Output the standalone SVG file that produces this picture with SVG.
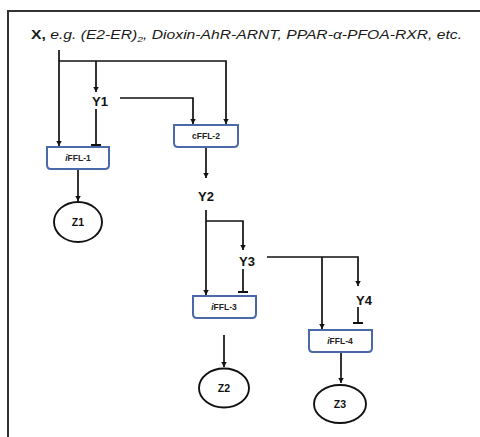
<svg xmlns="http://www.w3.org/2000/svg" width="480" height="437" viewBox="0 0 480 437">
<style>
.ln{fill:none;stroke:#111;stroke-width:1.7}
.bar{fill:none;stroke:#111;stroke-width:2}
.box{fill:#fff;stroke:#4a69a8;stroke-width:2}
.ell{fill:#fff;stroke:#111;stroke-width:1.9}
.y{font-family:"Liberation Sans",Arial,sans-serif;font-weight:bold;font-size:13px;fill:#111;text-anchor:middle}
.z{font-family:"Liberation Sans",Arial,sans-serif;font-weight:bold;font-size:10.5px;fill:#111;text-anchor:middle}
.b{font-family:"Liberation Sans",Arial,sans-serif;font-weight:bold;font-size:8.5px;fill:#222;text-anchor:middle}
.t{font-family:"Liberation Sans",Arial,sans-serif;font-size:12px;fill:#1a1a1a}
</style>
<defs>
<marker id="ah" markerWidth="7" markerHeight="7" refX="5.5" refY="3.5" orient="auto" markerUnits="userSpaceOnUse">
<path d="M0,0.5 L5.5,3.5 L0,6.5 Z" fill="#111"/>
</marker>
</defs>
<rect width="480" height="437" fill="#fff"/>
<path d="M8,437 V11 H480" fill="none" stroke="#333" stroke-width="2"/>
<text class="t" x="31" y="39" textLength="431" lengthAdjust="spacingAndGlyphs"><tspan font-weight="bold" font-style="normal">X,</tspan><tspan font-style="italic"> e.g. (E2-ER)</tspan><tspan font-style="italic" font-size="8" dy="3">2</tspan><tspan font-style="italic" dy="-3">, Dioxin-AhR-ARNT, PPAR-α-PFOA-RXR, etc.</tspan></text>
<g id="connectors">
<path class="ln" d="M59,50 V146" marker-end="url(#ah)"/>
<path class="ln" d="M59,61 H226 V124" marker-end="url(#ah)"/>
<path class="ln" d="M96,61 V92" marker-end="url(#ah)"/>
<path class="ln" d="M96,109 V145"/>
<path class="bar" d="M91,145 H101"/>
<path class="ln" d="M120,98 H193 V124" marker-end="url(#ah)"/>
<path class="ln" d="M78,170 V201" marker-end="url(#ah)"/>
<path class="ln" d="M206,148 V178" marker-end="url(#ah)"/>
<path class="ln" d="M206,210 V295" marker-end="url(#ah)"/>
<path class="ln" d="M206,221 H243 V250" marker-end="url(#ah)"/>
<path class="ln" d="M243,269 V292"/>
<path class="bar" d="M238,292 H248"/>
<path class="ln" d="M267,257 H358 V286" marker-end="url(#ah)"/>
<path class="ln" d="M322,257 V329" marker-end="url(#ah)"/>
<path class="ln" d="M358,307 V323"/>
<path class="bar" d="M353,323 H363"/>
<path class="ln" d="M224,335 V367" marker-end="url(#ah)"/>
<path class="ln" d="M341,353 V383" marker-end="url(#ah)"/>
</g>
<g id="Y1"><text class="y" x="100" y="106">Y1</text></g>
<g id="Y2"><text class="y" x="206" y="201">Y2</text></g>
<g id="Y3"><text class="y" x="247" y="266">Y3</text></g>
<g id="Y4"><text class="y" x="364" y="305">Y4</text></g>
<g id="iFFL-1">
<path class="box" d="M47,147 H109 V165 Q109,169 105,169 H51 Q47,169 47,165 Z"/>
<text class="b" x="78" y="161"><tspan font-style="italic">i</tspan>FFL-1</text>
</g>
<g id="cFFL-2">
<path class="box" d="M174,125 H238 V143 Q238,147 234,147 H178 Q174,147 174,143 Z"/>
<text class="b" x="206" y="139">cFFL-2</text>
</g>
<g id="iFFL-3">
<path class="box" d="M193,296 H256 V314 Q256,318 252,318 H197 Q193,318 193,314 Z"/>
<text class="b" x="224" y="310"><tspan font-style="italic">i</tspan>FFL-3</text>
</g>
<g id="iFFL-4">
<path class="box" d="M309,330 H372 V348 Q372,352 368,352 H313 Q309,352 309,348 Z"/>
<text class="b" x="340" y="344"><tspan font-style="italic">i</tspan>FFL-4</text>
</g>
<g id="Z1"><ellipse class="ell" cx="78" cy="222" rx="24" ry="20"/><text class="z" x="78" y="226">Z1</text></g>
<g id="Z2"><ellipse class="ell" cx="224" cy="388" rx="25" ry="19.5"/><text class="z" x="224" y="392">Z2</text></g>
<g id="Z3"><ellipse class="ell" cx="340" cy="404" rx="26" ry="19"/><text class="z" x="340" y="408">Z3</text></g>
</svg>
